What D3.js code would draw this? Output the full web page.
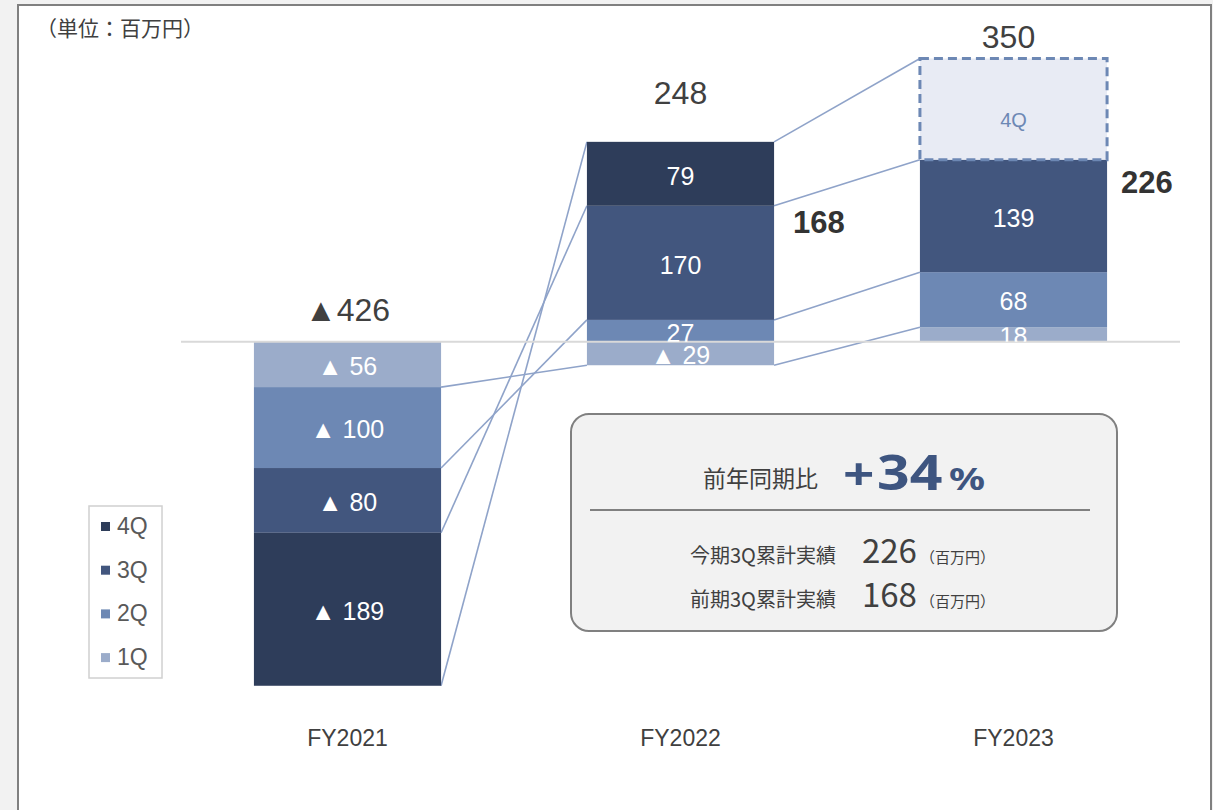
<html>
<head>
<meta charset="utf-8">
<script src="https://d3js.org/d3.v7.min.js"></script>
<style>
  body { margin: 0; background: #f2f2f2; }
  svg { display: block; }
  .num { font-family: "Liberation Sans", Arial, sans-serif; }
  .jp { font-family: "Noto Sans CJK JP", "Noto Sans", sans-serif; }
</style>
</head>
<body>
<svg id="chart" width="1213" height="810"></svg>
<script>
// chart values
const years = ["FY2021", "FY2022", "FY2023"];
const quarters = ["1Q", "2Q", "3Q", "4Q"];
const fy2021 = [-56, -100, -80, -189];
const fy2022 = [-29, 27, 170, 79];
const fy2023 = [18, 68, 139, 125];   // 4Q = forecast remainder up to 350
const totalLabels = ["▲426", "248", "350"];
const cum3QLabels = [null, "168", "226"];
const forecastYear = "FY2023", forecastQuarter = "4Q";
const qColors = ["#9bacca", "#6d88b4", "#42567e", "#2e3d5a"];

const values = [fy2021, fy2022, fy2023];

const svg = d3.select("#chart");

// white panel
svg.append("rect").attr("x", 18).attr("y", 5).attr("width", 1193).attr("height", 820)
  .attr("fill", "#fff").attr("stroke", "#808080").attr("stroke-width", 2);

svg.append("text").attr("class", "jp").attr("x", 36).attr("y", 36)
  .attr("font-size", 21).attr("fill", "#404040").text("（単位：百万円）");

const x = d3.scaleBand().domain(years).range([181, 1180])
  .paddingInner(0.438).paddingOuter(0.219);
const y = d3.scaleLinear().domain([-450, 400]).range([706, 18]);

// lay out each bar: negatives hang down, positives stack up
function layout(vals, year) {
  let cum = 0, posTop = 0;
  return vals.map((v, i) => {
    const prev = cum; cum += v;
    let lo, hi;
    if (v < 0) { hi = Math.min(prev, 0); lo = cum; }
    else {
      lo = Math.max(prev, posTop);
      hi = cum > lo ? cum : lo + v;
      posTop = hi;
    }
    return { year, q: quarters[i], i, v, lo, hi, end: v < 0 ? lo : hi,
      forecast: year === forecastYear && quarters[i] === forecastQuarter };
  });
}
const segs = years.map((yr, k) => layout(values[k], yr));

// connectors
const lines = svg.append("g");
for (let k = 0; k < years.length - 1; k++) {
  segs[k].forEach((s, i) => {
    const t = segs[k + 1][i];
    lines.append("line")
      .attr("x1", x(years[k]) + x.bandwidth()).attr("y1", y(s.end))
      .attr("x2", x(years[k + 1])).attr("y2", y(t.end))
      .attr("stroke", "#8fa3c9").attr("stroke-width", 1.6);
  });
}

const all = segs.flat();
const defs = svg.append("defs");
all.forEach((s, n) => {
  defs.append("clipPath").attr("id", "clip" + n).append("rect")
    .attr("x", x(s.year)).attr("y", y(s.hi))
    .attr("width", x.bandwidth()).attr("height", y(s.lo) - y(s.hi));
});

const bars = svg.append("g");
all.forEach((s, n) => {
  const r = bars.append("rect")
    .attr("x", x(s.year)).attr("y", y(s.hi))
    .attr("width", x.bandwidth()).attr("height", y(s.lo) - y(s.hi));
  if (s.forecast) {
    r.attr("fill", "#e8ebf4").attr("stroke", "#6d88b4").attr("stroke-width", 3)
      .attr("stroke-dasharray", "9,5");
  } else {
    r.attr("fill", qColors[s.i]);
  }
});

// zero line
svg.append("line").attr("x1", 181).attr("x2", 1180).attr("y1", y(0)).attr("y2", y(0))
  .attr("stroke", "#d9d9d9").attr("stroke-width", 2);

// segment labels
all.forEach((s, n) => {
  const t = svg.append("text").attr("class", "num")
    .attr("x", x(s.year) + x.bandwidth() / 2)
    .attr("y", (y(s.lo) + y(s.hi)) / 2 + 2).attr("dy", "0.35em")
    .attr("text-anchor", "middle");
  if (s.forecast) {
    t.attr("y", (y(s.lo) + y(s.hi)) / 2 + 11)
      .attr("font-size", 20).attr("fill", "#6d88b4").text(s.q);
  } else {
    t.attr("font-size", 25).attr("fill", "#fff").attr("clip-path", "url(#clip" + n + ")")
      .text(s.v < 0 ? "▲ " + Math.abs(s.v) : s.v);
  }
});

// totals above bars
const totalGap = [21, 38, 10];
const cumGap = [0, 27, 33];
const cumDx = [0, 19, 14];
segs.forEach((ss, k) => {
  const top = d3.max(ss, s => s.hi);
  svg.append("text").attr("class", "num")
    .attr("x", x(years[k]) + x.bandwidth() / 2 - (k === 2 ? 5 : 0)).attr("y", y(Math.max(top, 0)) - totalGap[k])
    .attr("text-anchor", "middle").attr("font-size", 32).attr("fill", "#404040")
    .text(totalLabels[k]);
  if (cum3QLabels[k]) {
    svg.append("text").attr("class", "num")
      .attr("x", x(years[k]) + x.bandwidth() + cumDx[k]).attr("y", y(ss[2].hi) + cumGap[k])
      .attr("font-size", 31).attr("font-weight", "bold").attr("fill", "#333")
      .text(cum3QLabels[k]);
  }
});

// x labels
svg.append("g").selectAll("text").data(years).join("text").attr("class", "num")
  .attr("x", d => x(d) + x.bandwidth() / 2).attr("y", 746)
  .attr("text-anchor", "middle").attr("font-size", 23).attr("fill", "#404040")
  .text(d => d);

// legend
const lg = svg.append("g");
lg.append("rect").attr("x", 89).attr("y", 506).attr("width", 73).attr("height", 172)
  .attr("fill", "#fff").attr("stroke", "#d0d0d0").attr("stroke-width", 1.5);
quarters.slice().reverse().forEach((q, j) => {
  const ci = quarters.indexOf(q);
  lg.append("rect").attr("x", 101).attr("y", 522 + j * 43.7).attr("width", 9).attr("height", 9)
    .attr("fill", qColors[ci]);
  lg.append("text").attr("class", "num").attr("x", 117).attr("y", 534 + j * 43.7)
    .attr("font-size", 23).attr("fill", "#595959").text(q);
});

// summary box
const bx = svg.append("g");
bx.append("rect").attr("x", 571).attr("y", 414).attr("width", 546).attr("height", 217)
  .attr("rx", 18).attr("fill", "#f2f2f2").attr("stroke", "#808080").attr("stroke-width", 2);
bx.append("text").attr("class", "jp").attr("x", 703).attr("y", 487)
  .attr("font-size", 23).attr("fill", "#404040").text("前年同期比");
// [text, x, font size, x-stretch, y-squash]
const pctParts = [["+", 843, 44, 1.25, 1], ["34", 877, 52, 1.1, 0.92], ["%", 949, 32, 1.25, 0.95]];
pctParts.forEach(p => {
  bx.append("text").attr("transform", `translate(${p[1]},490) scale(${p[3]},${p[4]})`)
    .attr("fill", "#3e5580")
    .attr("font-family", "'Noto Sans', sans-serif").attr("font-weight", "bold")
    .attr("font-size", p[2]).text(p[0]);
});
bx.append("line").attr("x1", 590).attr("x2", 1090).attr("y1", 510).attr("y2", 510)
  .attr("stroke", "#808080").attr("stroke-width", 2);
const rows = [["今期3Q累計実績", "226", 563], ["前期3Q累計実績", "168", 607]];
rows.forEach(r => {
  const t = bx.append("text").attr("class", "jp").attr("x", 690).attr("y", r[2]).attr("fill", "#404040");
  t.append("tspan").attr("font-size", 20).text(r[0]);
  t.append("tspan").attr("font-size", 33).attr("dx", 26).text(r[1]);
  t.append("tspan").attr("font-size", 15).attr("dx", 3).text("（百万円）");
});
</script>
</body>
</html>
